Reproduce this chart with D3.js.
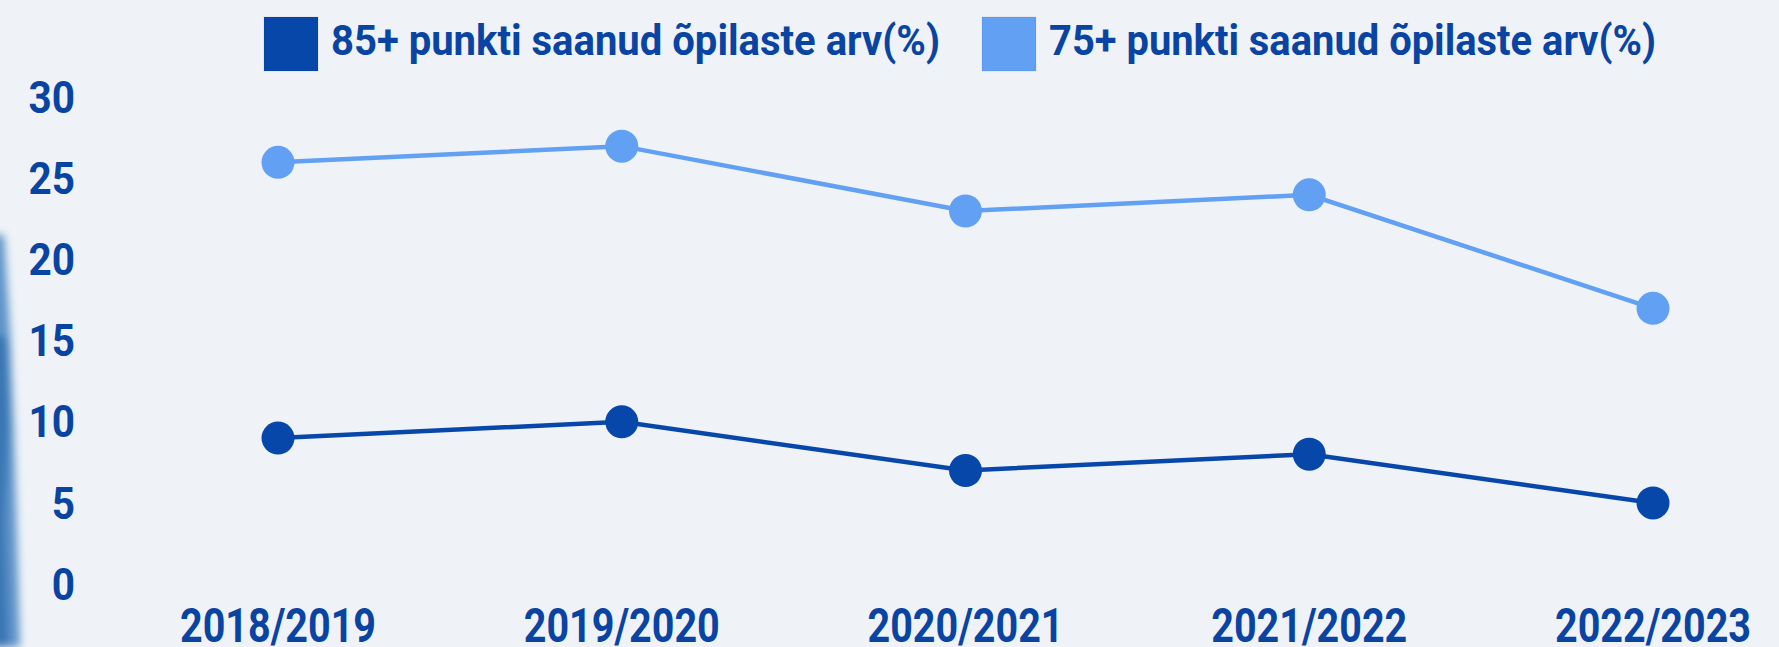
<!DOCTYPE html>
<html>
<head>
<meta charset="utf-8">
<script src="https://cdn.jsdelivr.net/npm/d3@7"></script>
<style>
  html, body { margin: 0; padding: 0; background: #eff3f8; }
  svg { display: block; }
</style>
</head>
<body>
<div id="chart"></div>
<script>
// data
const seasons = ["2018/2019", "2019/2020", "2020/2021", "2021/2022", "2022/2023"];
const top85 = [9, 10, 7, 8, 5];
const top75 = [26, 27, 23, 24, 17];
const yTicks = [0, 5, 10, 15, 20, 25, 30];
const seriesNames = ["85+ punkti saanud õpilaste arv(%)", "75+ punkti saanud õpilaste arv(%)"];

const colors = {
    background: "#eff3f8",
    dark: "#0847aa",
    light: "#62a0f4",
    text: "#0a44a3",
    edge: "#2f74b8"
};

const width = 1779, height = 647;
const font = "Roboto, 'Noto Sans', sans-serif";

const svg = d3.select("#chart")
    .append("svg")
    .attr("viewBox", [0, 0, width, height])
    .attr("width", width)
    .attr("height", height);

svg.append("rect")
    .attr("width", width)
    .attr("height", height)
    .attr("fill", colors.background);

// blurred photo edge on the left
const blur = svg.append("defs").append("filter")
    .attr("id", "edgeBlur")
    .attr("x", "-50%").attr("width", "200%");
blur.append("feGaussianBlur").attr("stdDeviation", 4);

const edge = svg.append("g").attr("filter", "url(#edgeBlur)");
edge.append("path")
    .attr("d", "M-10,235 L4,235 L10,330 L14,430 L17,540 L20,647 L-10,647 Z")
    .attr("fill", colors.edge)
    .attr("opacity", 0.75);
edge.append("path")
    .attr("d", "M-10,330 L7,340 L9,420 L4,520 L8,647 L-10,647 Z")
    .attr("fill", "#1f5fa3")
    .attr("opacity", 0.6);

const x = d3.scalePoint()
    .domain(seasons)
    .range([278, 1653]);

const y = d3.scaleLinear()
    .domain([0, 30])
    .range([584, 97.5]);

// y tick labels
svg.append("g")
    .selectAll("text")
    .data(yTicks)
    .join("text")
    .attr("x", 75)
    .attr("y", d => y(d))
    .attr("dy", "0.355em")
    .attr("text-anchor", "end")
    .attr("font-family", font)
    .attr("font-weight", 700)
    .attr("font-size", 44)
    .attr("fill", colors.text)
    .text(d => d)
    .each(function () {
        this.setAttribute("textLength", this.getComputedTextLength() * 0.92);
        this.setAttribute("lengthAdjust", "spacingAndGlyphs");
    });

// x tick labels
svg.append("g")
    .selectAll("text")
    .data(seasons)
    .join("text")
    .attr("x", d => x(d))
    .attr("y", 642)
    .attr("text-anchor", "middle")
    .attr("font-family", font)
    .attr("font-weight", 700)
    .attr("font-size", 48)
    .attr("fill", colors.text)
    .attr("textLength", 196)
    .attr("lengthAdjust", "spacingAndGlyphs")
    .text(d => d);

const series = [
    { name: seriesNames[1], values: top75, color: colors.light },
    { name: seriesNames[0], values: top85, color: colors.dark }
];

const line = d3.line()
    .x((d, i) => x(seasons[i]))
    .y(d => y(d));

series.forEach(s => {
    const g = svg.append("g");
    g.append("path")
        .attr("d", line(s.values))
        .attr("fill", "none")
        .attr("stroke", s.color)
        .attr("stroke-width", 4.5);
    g.selectAll("circle")
        .data(s.values)
        .join("circle")
        .attr("cx", (d, i) => x(seasons[i]))
        .attr("cy", d => y(d))
        .attr("r", 16.5)
        .attr("fill", s.color);
});

// legend
const legend = [
    { name: seriesNames[0], color: colors.dark, x: 264, textW: 609 },
    { name: seriesNames[1], color: colors.light, x: 982, textW: 607 }
];

const lg = svg.append("g")
    .selectAll("g")
    .data(legend)
    .join("g")
    .attr("transform", d => `translate(${d.x},17)`);

lg.append("rect")
    .attr("width", 54)
    .attr("height", 54)
    .attr("fill", d => d.color)
    .attr("stroke", "rgba(0,0,0,0.08)")
    .attr("stroke-width", 1);

lg.append("text")
    .attr("x", 67)
    .attr("y", 38)
    .attr("font-family", font)
    .attr("font-weight", 700)
    .attr("font-size", 42)
    .attr("fill", colors.text)
    .attr("textLength", d => d.textW)
    .attr("lengthAdjust", "spacingAndGlyphs")
    .text(d => d.name);
</script>
</body>
</html>
